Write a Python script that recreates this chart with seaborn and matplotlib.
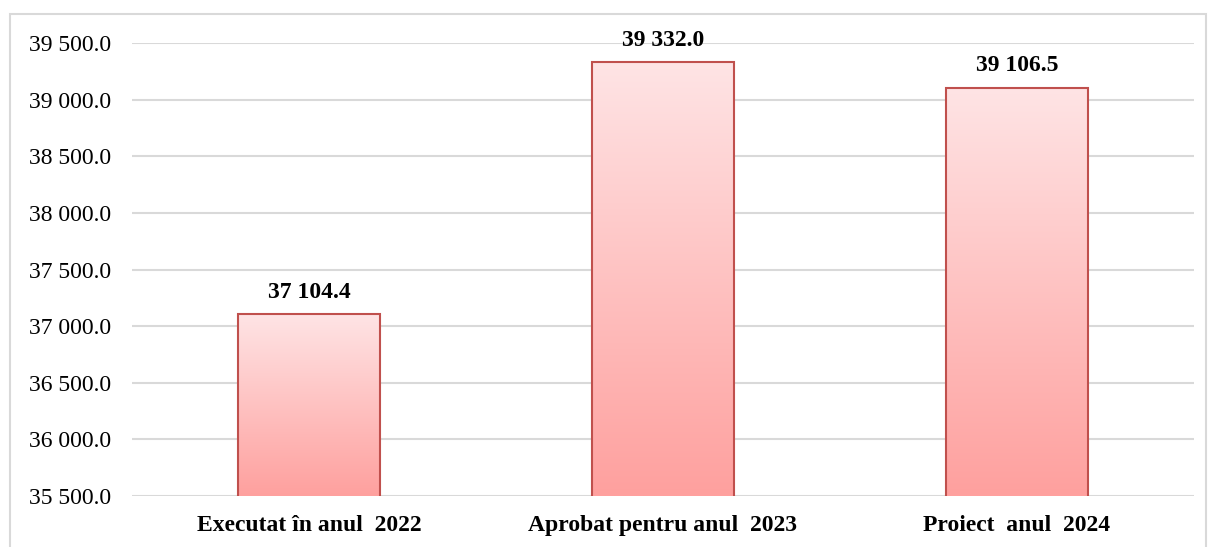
import numpy as np
import pandas as pd
import matplotlib
matplotlib.use("Agg")
import matplotlib.pyplot as plt
import seaborn as sns
from matplotlib.colors import LinearSegmentedColormap
from matplotlib.patches import Rectangle

categories = ["Executat în anul  2022", "Aprobat pentru anul  2023", "Proiect  anul  2024"]
values = [37104.4, 39332.0, 39106.5]
y_ticks = [35500, 36000, 36500, 37000, 37500, 38000, 38500, 39000, 39500]

sns.set_theme(style="white")
plt.rcParams['font.family'] = ['Liberation Serif', 'DejaVu Serif']
plt.rcParams['text.color'] = '#000000'
plt.rcParams['xtick.color'] = '#000000'
plt.rcParams['ytick.color'] = '#000000'

df = pd.DataFrame({"cat": categories, "val": values})

fig = plt.figure(figsize=(12.10, 5.47), dpi=100)
ax = fig.add_axes([132/1210, 1-496/547, (1194-132)/1210, (496-43)/547])

sns.barplot(data=df, x="cat", y="val", ax=ax, width=0.40, color="#FFB0AE",
            edgecolor="#C0504D", linewidth=1.5, zorder=2)

ax.set_ylim(35500, 39500)
ax.set_xlim(-0.5, 2.5)
ax.set_yticks(y_ticks)
ax.set_yticklabels([f"{v:,.1f}".replace(",", " ") for v in y_ticks], fontsize=17)
ax.tick_params(axis='y', length=0, pad=15, labelcolor="#000000")
ax.tick_params(axis='x', length=0, pad=14, labelcolor="#000000")
for lab in ax.get_xticklabels():
    lab.set_fontsize(17)
    lab.set_fontweight("bold")
    lab.set_color("#000000")
ax.set_xlabel("")
ax.set_ylabel("")
ax.yaxis.grid(True, color="#D9D9D9", linewidth=1.5, zorder=0)
ax.set_axisbelow(True)
for s in ax.spines.values():
    s.set_visible(False)

# gradient fill
cmap = LinearSegmentedColormap.from_list("g", ["#FFA09E", "#FEE4E5"])
grad = np.linspace(0, 1, 256).reshape(-1, 1)
for p in ax.patches:
    x0, y0 = p.get_x(), p.get_y()
    w, h = p.get_width(), p.get_height()
    y_bottom = 35500
    im = ax.imshow(grad, cmap=cmap, origin="lower", aspect="auto",
                   extent=[x0, x0 + w, y_bottom, y0 + h], zorder=2.5,
                   interpolation="bilinear")
    im.set_clip_path(p)
    p.set_facecolor("none")
    p.set_zorder(3)

for i, v in enumerate(values):
    ax.annotate(f"{v:,.1f}".replace(",", " "), (i, v), xytext=(0, 8),
                textcoords="offset points", ha="center", va="bottom",
                fontsize=17, fontweight="bold", color="#000000")

ax.set_xlim(-0.5, 2.5)
ax.set_ylim(35500, 39500)

# outer chart border
fig.patches.append(Rectangle((10/1210, -0.01), 1196/1210, 1 - 14/547 + 0.01,
                             transform=fig.transFigure, fill=False,
                             edgecolor="#D9D9D9", linewidth=1.5))

fig.savefig("out.png", dpi=100)
